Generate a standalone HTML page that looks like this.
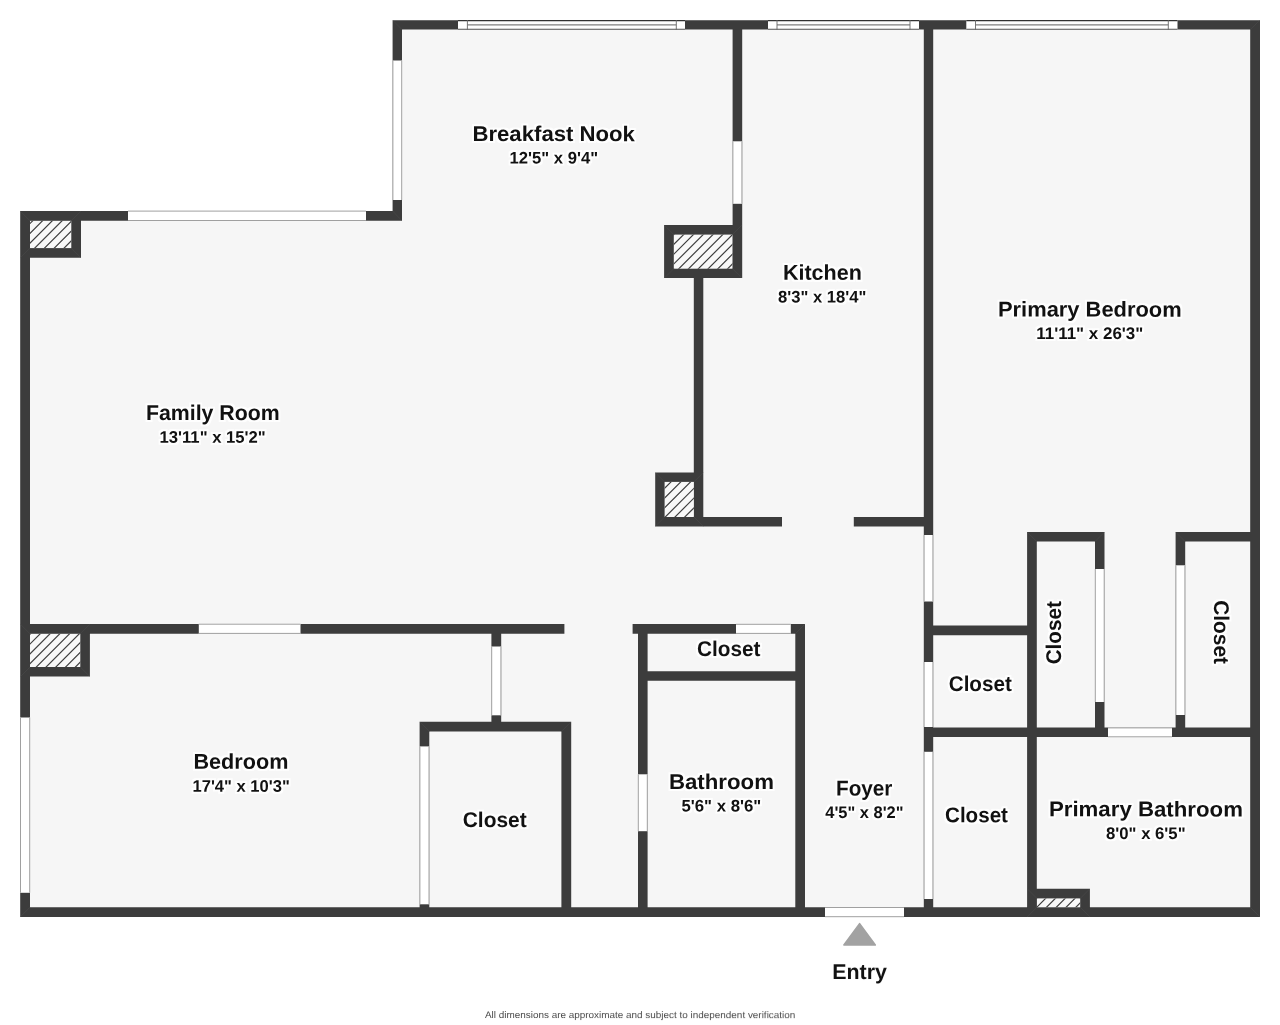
<!DOCTYPE html>
<html lang="en">
<head>
<meta charset="utf-8">
<title>Floor Plan</title>
<style>
html,body{margin:0;padding:0;background:#fff;}
body{width:1280px;height:1025px;overflow:hidden;}
svg{display:block;will-change:transform;}
text{font-family:"Liberation Sans",sans-serif;text-rendering:geometricPrecision;}
.t{font-weight:bold;fill:#111;stroke:none;}
.hl{filter:url(#halo);}
.f{font-weight:normal;fill:#4a4a4a;}
</style>
</head>
<body>
<svg width="1280" height="1025" viewBox="0 0 1280 1025">
<path d="M20.2 211 H392.6 V20.2 H1260 V917 H20.2 Z" fill="#f6f6f6"/>
<defs>
<clipPath id="c0"><rect x="30" y="220.8" width="41.3" height="27.3"/></clipPath>
<clipPath id="c1"><rect x="673.8" y="234.6" width="58.7" height="34.1"/></clipPath>
<clipPath id="c2"><rect x="664.6" y="481.9" width="29.3" height="35.1"/></clipPath>
<clipPath id="c3"><rect x="30" y="633.8" width="50.3" height="33.2"/></clipPath>
<clipPath id="c4"><rect x="1036.9" y="898.4" width="43.3" height="8.9"/></clipPath>
</defs>
<path d="M20.2 211H30V917H20.2ZM20.2 211H402V220.8H20.2ZM392.6 20.2H402V220.8H392.6ZM392.6 20.2H1260V29.6H392.6ZM1250.2 20.2H1260V917H1250.2ZM20.2 907.2H1260V917H20.2ZM732.6 29H742.2V226H732.6ZM693.8 277H703.3V473H693.8ZM703 517H782V526.5H703ZM853.8 517H933.2V526.5H853.8ZM923.8 29H933.2V908H923.8ZM20.2 623.9H564.4V633.7H20.2ZM491.4 633H501.2V722H491.4ZM419.6 721.7H571.2V731.4H419.6ZM419.6 721.7H429.3V908H419.6ZM561.4 721.7H571.2V908H561.4ZM632.6 624H805V633.7H632.6ZM638 624H647.6V908H638ZM795.3 624H805V908H795.3ZM638 671.3H805V680.8H638ZM933 625.6H1027.5V635.3H933ZM1027.1 532H1036.8V908H1027.1ZM1027.1 532H1104.5V541.6H1027.1ZM1095 532H1104.5V737H1095ZM923.8 727.6H1260V737.1H923.8ZM1175.6 532H1260V541.6H1175.6ZM1175.6 532H1185.2V737H1175.6ZM20.2 211H81V257.8H20.2ZM664.1 225H742.2V278H664.1ZM655.2 472.4H703.3V526.5H655.2ZM20.2 623.9H89.9V676.6H20.2ZM1027.1 888.8H1089.9V917H1027.1Z" fill="#3c3c3c"/>
<clipPath id="wc"><path d="M20.2 211H30V917H20.2ZM20.2 211H402V220.8H20.2ZM392.6 20.2H402V220.8H392.6ZM392.6 20.2H1260V29.6H392.6ZM1250.2 20.2H1260V917H1250.2ZM20.2 907.2H1260V917H20.2ZM732.6 29H742.2V226H732.6ZM693.8 277H703.3V473H693.8ZM703 517H782V526.5H703ZM853.8 517H933.2V526.5H853.8ZM923.8 29H933.2V908H923.8ZM20.2 623.9H564.4V633.7H20.2ZM491.4 633H501.2V722H491.4ZM419.6 721.7H571.2V731.4H419.6ZM419.6 721.7H429.3V908H419.6ZM561.4 721.7H571.2V908H561.4ZM632.6 624H805V633.7H632.6ZM638 624H647.6V908H638ZM795.3 624H805V908H795.3ZM638 671.3H805V680.8H638ZM933 625.6H1027.5V635.3H933ZM1027.1 532H1036.8V908H1027.1ZM1027.1 532H1104.5V541.6H1027.1ZM1095 532H1104.5V737H1095ZM923.8 727.6H1260V737.1H923.8ZM1175.6 532H1260V541.6H1175.6ZM1175.6 532H1185.2V737H1175.6ZM20.2 211H81V257.8H20.2ZM664.1 225H742.2V278H664.1ZM655.2 472.4H703.3V526.5H655.2ZM20.2 623.9H89.9V676.6H20.2ZM1027.1 888.8H1089.9V917H1027.1Z"/></clipPath>
<rect x="30" y="220.8" width="41.3" height="27.3" fill="#f8f8f8"/>
<path d="M34.70 218.80 L3.40 250.10 M44.48 218.80 L13.18 250.10 M54.26 218.80 L22.96 250.10 M64.04 218.80 L32.74 250.10 M73.82 218.80 L42.52 250.10 M83.60 218.80 L52.30 250.10 M93.38 218.80 L62.08 250.10" stroke="#404040" stroke-width="1.2" fill="none" clip-path="url(#c0)"/>
<rect x="673.8" y="234.6" width="58.7" height="34.1" fill="#f8f8f8"/>
<path d="M675.82 232.60 L637.72 270.70 M685.60 232.60 L647.50 270.70 M695.38 232.60 L657.28 270.70 M705.16 232.60 L667.06 270.70 M714.94 232.60 L676.84 270.70 M724.72 232.60 L686.62 270.70 M734.50 232.60 L696.40 270.70 M744.28 232.60 L706.18 270.70 M754.06 232.60 L715.96 270.70 M763.84 232.60 L725.74 270.70" stroke="#404040" stroke-width="1.2" fill="none" clip-path="url(#c1)"/>
<rect x="664.6" y="481.9" width="29.3" height="35.1" fill="#f8f8f8"/>
<path d="M673.00 479.90 L633.90 519.00 M682.78 479.90 L643.68 519.00 M692.56 479.90 L653.46 519.00 M702.34 479.90 L663.24 519.00 M712.12 479.90 L673.02 519.00 M721.90 479.90 L682.80 519.00 M731.68 479.90 L692.58 519.00" stroke="#404040" stroke-width="1.2" fill="none" clip-path="url(#c2)"/>
<rect x="30" y="633.8" width="50.3" height="33.2" fill="#f8f8f8"/>
<path d="M32.42 631.80 L-4.78 669.00 M42.20 631.80 L5.00 669.00 M51.98 631.80 L14.78 669.00 M61.76 631.80 L24.56 669.00 M71.54 631.80 L34.34 669.00 M81.32 631.80 L44.12 669.00 M91.10 631.80 L53.90 669.00 M100.88 631.80 L63.68 669.00 M110.66 631.80 L73.46 669.00" stroke="#404040" stroke-width="1.2" fill="none" clip-path="url(#c3)"/>
<rect x="1036.9" y="898.4" width="43.3" height="8.9" fill="#f8f8f8"/>
<path d="M1047.60 896.40 L1034.70 909.30 M1057.38 896.40 L1044.48 909.30 M1067.16 896.40 L1054.26 909.30 M1076.94 896.40 L1064.04 909.30 M1086.72 896.40 L1073.82 909.30" stroke="#404040" stroke-width="1.2" fill="none" clip-path="url(#c4)"/>
<path d="M30 220.8L20.3 211.1M71.3 220.8L81 211.1M30 248.1L20.3 257.8M71.3 248.1L81 257.8M673.8 234.6L664.1 224.9M732.5 234.6L742.2 224.9M673.8 268.7L664.1 278.4M732.5 268.7L742.2 278.4M664.6 481.9L654.9 472.2M693.9 481.9L703.6 472.2M664.6 517L654.9 526.7M693.9 517L703.6 526.7M30 633.8L20.3 624.1M80.3 633.8L90 624.1M30 667L20.3 676.7M80.3 667L90 676.7M1036.9 898.4L1027.2 888.7M1080.2 898.4L1089.9 888.7M1036.9 907.3L1027.2 917M1080.2 907.3L1089.9 917M392.6 20.2L402 29.6M1260 20.2L1250.2 29.6M1260 917L1250.2 907.2M20.2 917L30 907.2M402 220.8L392.6 211M419.6 721.7L429.3 731.4M571.2 721.7L561.4 731.4M805 624L795.3 633.7M1027.1 532L1036.8 541.6M1104.5 532L1095 541.6M1175.6 532L1185.2 541.6" stroke="#4b4b4b" stroke-width="0.6" fill="none" clip-path="url(#wc)"/>
<rect x="128" y="210.6" width="238" height="10.4" fill="#fff"/>
<path d="M128 211.1 H366 M128 220.5 H366" stroke="#a0a0a0" stroke-width="1" fill="none"/>
<rect x="392.4" y="60.5" width="9.8" height="139.5" fill="#fff"/>
<path d="M392.9 60.5 V200 M401.7 60.5 V200" stroke="#a0a0a0" stroke-width="1" fill="none"/>
<rect x="20" y="717.5" width="10.2" height="175.3" fill="#fff"/>
<path d="M20.5 717.5 V892.8 M29.7 717.5 V892.8" stroke="#a0a0a0" stroke-width="1" fill="none"/>
<rect x="732.4" y="141.3" width="10" height="62.5" fill="#fff"/>
<path d="M732.9 141.3 V203.8 M741.9 141.3 V203.8" stroke="#a0a0a0" stroke-width="1" fill="none"/>
<rect x="198.8" y="623.7" width="101.7" height="10.2" fill="#fff"/>
<path d="M198.8 624.2 H300.5 M198.8 633.4 H300.5" stroke="#a0a0a0" stroke-width="1" fill="none"/>
<rect x="491.2" y="646.5" width="10.2" height="68.8" fill="#fff"/>
<path d="M491.7 646.5 V715.3 M500.9 646.5 V715.3" stroke="#a0a0a0" stroke-width="1" fill="none"/>
<rect x="419.4" y="746.4" width="10.1" height="157.9" fill="#fff"/>
<path d="M419.9 746.4 V904.3 M429 746.4 V904.3" stroke="#a0a0a0" stroke-width="1" fill="none"/>
<rect x="736" y="623.8" width="54.8" height="10.1" fill="#fff"/>
<path d="M736 624.3 H790.8 M736 633.4 H790.8" stroke="#a0a0a0" stroke-width="1" fill="none"/>
<rect x="637.8" y="774.3" width="10" height="56.9" fill="#fff"/>
<path d="M638.3 774.3 V831.2 M647.3 774.3 V831.2" stroke="#a0a0a0" stroke-width="1" fill="none"/>
<rect x="825" y="907" width="79" height="10.2" fill="#fff"/>
<path d="M825 907.5 H904 M825 916.7 H904" stroke="#a0a0a0" stroke-width="1" fill="none"/>
<rect x="923.6" y="535" width="9.8" height="66.5" fill="#fff"/>
<path d="M924.1 535 V601.5 M932.9 535 V601.5" stroke="#a0a0a0" stroke-width="1" fill="none"/>
<rect x="923.6" y="662" width="9.8" height="65" fill="#fff"/>
<path d="M924.1 662 V727 M932.9 662 V727" stroke="#a0a0a0" stroke-width="1" fill="none"/>
<rect x="923.6" y="751.8" width="9.8" height="147.2" fill="#fff"/>
<path d="M924.1 751.8 V899 M932.9 751.8 V899" stroke="#a0a0a0" stroke-width="1" fill="none"/>
<rect x="1094.8" y="569" width="9.9" height="133" fill="#fff"/>
<path d="M1095.3 569 V702 M1104.2 569 V702" stroke="#a0a0a0" stroke-width="1" fill="none"/>
<rect x="1175.4" y="565.3" width="10" height="149.7" fill="#fff"/>
<path d="M1175.9 565.3 V715 M1184.9 565.3 V715" stroke="#a0a0a0" stroke-width="1" fill="none"/>
<rect x="1108" y="727.4" width="64" height="9.9" fill="#fff"/>
<path d="M1108 727.9 H1172 M1108 736.8 H1172" stroke="#a0a0a0" stroke-width="1" fill="none"/>
<rect x="458" y="20" width="227" height="9.8" fill="#fff"/>
<path d="M458 20.6 H685" stroke="#333" stroke-width="1.2" fill="none"/>
<path d="M458 29.2 H685" stroke="#555" stroke-width="1.1" fill="none"/>
<path d="M467.4 24.9 H676.3" stroke="#808080" stroke-width="1.3" fill="none"/>
<path d="M467.4 20 V29.8 M676.3 20 V29.8" stroke="#666" stroke-width="0.9" fill="none"/>
<rect x="768" y="20" width="151" height="9.8" fill="#fff"/>
<path d="M768 20.6 H919" stroke="#333" stroke-width="1.2" fill="none"/>
<path d="M768 29.2 H919" stroke="#555" stroke-width="1.1" fill="none"/>
<path d="M777 24.9 H910" stroke="#808080" stroke-width="1.3" fill="none"/>
<path d="M777 20 V29.8 M910 20 V29.8" stroke="#666" stroke-width="0.9" fill="none"/>
<rect x="966.3" y="20" width="211.2" height="9.8" fill="#fff"/>
<path d="M966.3 20.6 H1177.5" stroke="#333" stroke-width="1.2" fill="none"/>
<path d="M966.3 29.2 H1177.5" stroke="#555" stroke-width="1.1" fill="none"/>
<path d="M975.5 24.9 H1168.3" stroke="#808080" stroke-width="1.3" fill="none"/>
<path d="M975.5 20 V29.8 M1168.3 20 V29.8" stroke="#666" stroke-width="0.9" fill="none"/>
<path d="M859.6 923.7 L875.3 945 H843.9 Z" fill="#a2a2a2" stroke="#a2a2a2" stroke-width="1.6" stroke-linejoin="round"/>
<defs><filter id="halo" x="0" y="0" width="1280" height="1025" filterUnits="userSpaceOnUse" color-interpolation-filters="sRGB"><feMorphology in="SourceAlpha" operator="dilate" radius="1.5" result="d"/><feGaussianBlur in="d" stdDeviation="0.7" result="b"/><feFlood flood-color="#fff" flood-opacity="0.85"/><feComposite in2="b" operator="in" result="h"/><feMerge><feMergeNode in="h"/><feMergeNode in="SourceGraphic"/></feMerge></filter></defs>
<g class="hl">
<text class="t" x="472.44" y="141" font-size="21.3" textLength="162.47" lengthAdjust="spacingAndGlyphs" transform="rotate(0.05 472.44 141)">Breakfast Nook</text>
<text class="t" x="509.52" y="163.4" font-size="16.8" textLength="88.52" lengthAdjust="spacingAndGlyphs" transform="rotate(0.05 509.52 163.4)">12&#39;5&quot; x 9&#39;4&quot;</text>
<text class="t" x="145.99" y="420" font-size="21.3" textLength="133.71" lengthAdjust="spacingAndGlyphs" transform="rotate(0.05 145.99 420)">Family Room</text>
<text class="t" x="159.51" y="442.7" font-size="16.8" textLength="106.27" lengthAdjust="spacingAndGlyphs" transform="rotate(0.05 159.51 442.7)">13&#39;11&quot; x 15&#39;2&quot;</text>
<text class="t" x="782.96" y="279.7" font-size="21.3" textLength="78.86" lengthAdjust="spacingAndGlyphs" transform="rotate(0.05 782.96 279.7)">Kitchen</text>
<text class="t" x="778.01" y="302.4" font-size="16.8" textLength="88.3" lengthAdjust="spacingAndGlyphs" transform="rotate(0.05 778.01 302.4)">8&#39;3&quot; x 18&#39;4&quot;</text>
<text class="t" x="997.96" y="316.5" font-size="21.3" textLength="183.74" lengthAdjust="spacingAndGlyphs" transform="rotate(0.05 997.96 316.5)">Primary Bedroom</text>
<text class="t" x="1036.26" y="339" font-size="16.8" textLength="107.06" lengthAdjust="spacingAndGlyphs" transform="rotate(0.05 1036.26 339)">11&#39;11&quot; x 26&#39;3&quot;</text>
<text class="t" x="193.46" y="768.7" font-size="21.3" textLength="94.98" lengthAdjust="spacingAndGlyphs" transform="rotate(0.05 193.46 768.7)">Bedroom</text>
<text class="t" x="192.53" y="791.8" font-size="16.8" textLength="97.26" lengthAdjust="spacingAndGlyphs" transform="rotate(0.05 192.53 791.8)">17&#39;4&quot; x 10&#39;3&quot;</text>
<text class="t" x="462.74" y="826.8" font-size="21.3" textLength="64.02" lengthAdjust="spacingAndGlyphs" transform="rotate(0.05 462.74 826.8)">Closet</text>
<text class="t" x="697" y="656" font-size="21.3" textLength="63.51" lengthAdjust="spacingAndGlyphs" transform="rotate(0.05 697 656)">Closet</text>
<text class="t" x="668.94" y="788.9" font-size="21.3" textLength="105.03" lengthAdjust="spacingAndGlyphs" transform="rotate(0.05 668.94 788.9)">Bathroom</text>
<text class="t" x="681.49" y="811.4" font-size="16.8" textLength="79.82" lengthAdjust="spacingAndGlyphs" transform="rotate(0.05 681.49 811.4)">5&#39;6&quot; x 8&#39;6&quot;</text>
<text class="t" x="836.02" y="795.4" font-size="21.3" textLength="56.41" lengthAdjust="spacingAndGlyphs" transform="rotate(0.05 836.02 795.4)">Foyer</text>
<text class="t" x="825.25" y="817.9" font-size="16.8" textLength="78.27" lengthAdjust="spacingAndGlyphs" transform="rotate(0.05 825.25 817.9)">4&#39;5&quot; x 8&#39;2&quot;</text>
<text class="t" x="948.76" y="690.9" font-size="21.3" textLength="63.03" lengthAdjust="spacingAndGlyphs" transform="rotate(0.05 948.76 690.9)">Closet</text>
<text class="t" x="945" y="822.2" font-size="21.3" textLength="62.99" lengthAdjust="spacingAndGlyphs" transform="rotate(0.05 945 822.2)">Closet</text>
<text class="t" x="1048.94" y="816.3" font-size="21.3" textLength="194.02" lengthAdjust="spacingAndGlyphs" transform="rotate(0.05 1048.94 816.3)">Primary Bathroom</text>
<text class="t" x="1106" y="838.9" font-size="16.8" textLength="79.56" lengthAdjust="spacingAndGlyphs" transform="rotate(0.05 1106 838.9)">8&#39;0&quot; x 6&#39;5&quot;</text>
<text class="t" x="832.22" y="978.8" font-size="21.3" textLength="54.71" lengthAdjust="spacingAndGlyphs" transform="rotate(0.05 832.22 978.8)">Entry</text>
<text class="t" x="1061" y="664.35" font-size="21.3" textLength="63.2" lengthAdjust="spacingAndGlyphs" transform="rotate(-90 1061 664.35)">Closet</text>
<text class="t" x="1213.6" y="600.15" font-size="21.3" textLength="63.95" lengthAdjust="spacingAndGlyphs" transform="rotate(90 1213.6 600.15)">Closet</text>
<text class="f" x="485" y="1018.4" font-size="9.5" textLength="310.3" lengthAdjust="spacingAndGlyphs" transform="rotate(0.03 485 1018.4)">All dimensions are approximate and subject to independent verification</text>
</g>
</svg>
</body>
</html>
